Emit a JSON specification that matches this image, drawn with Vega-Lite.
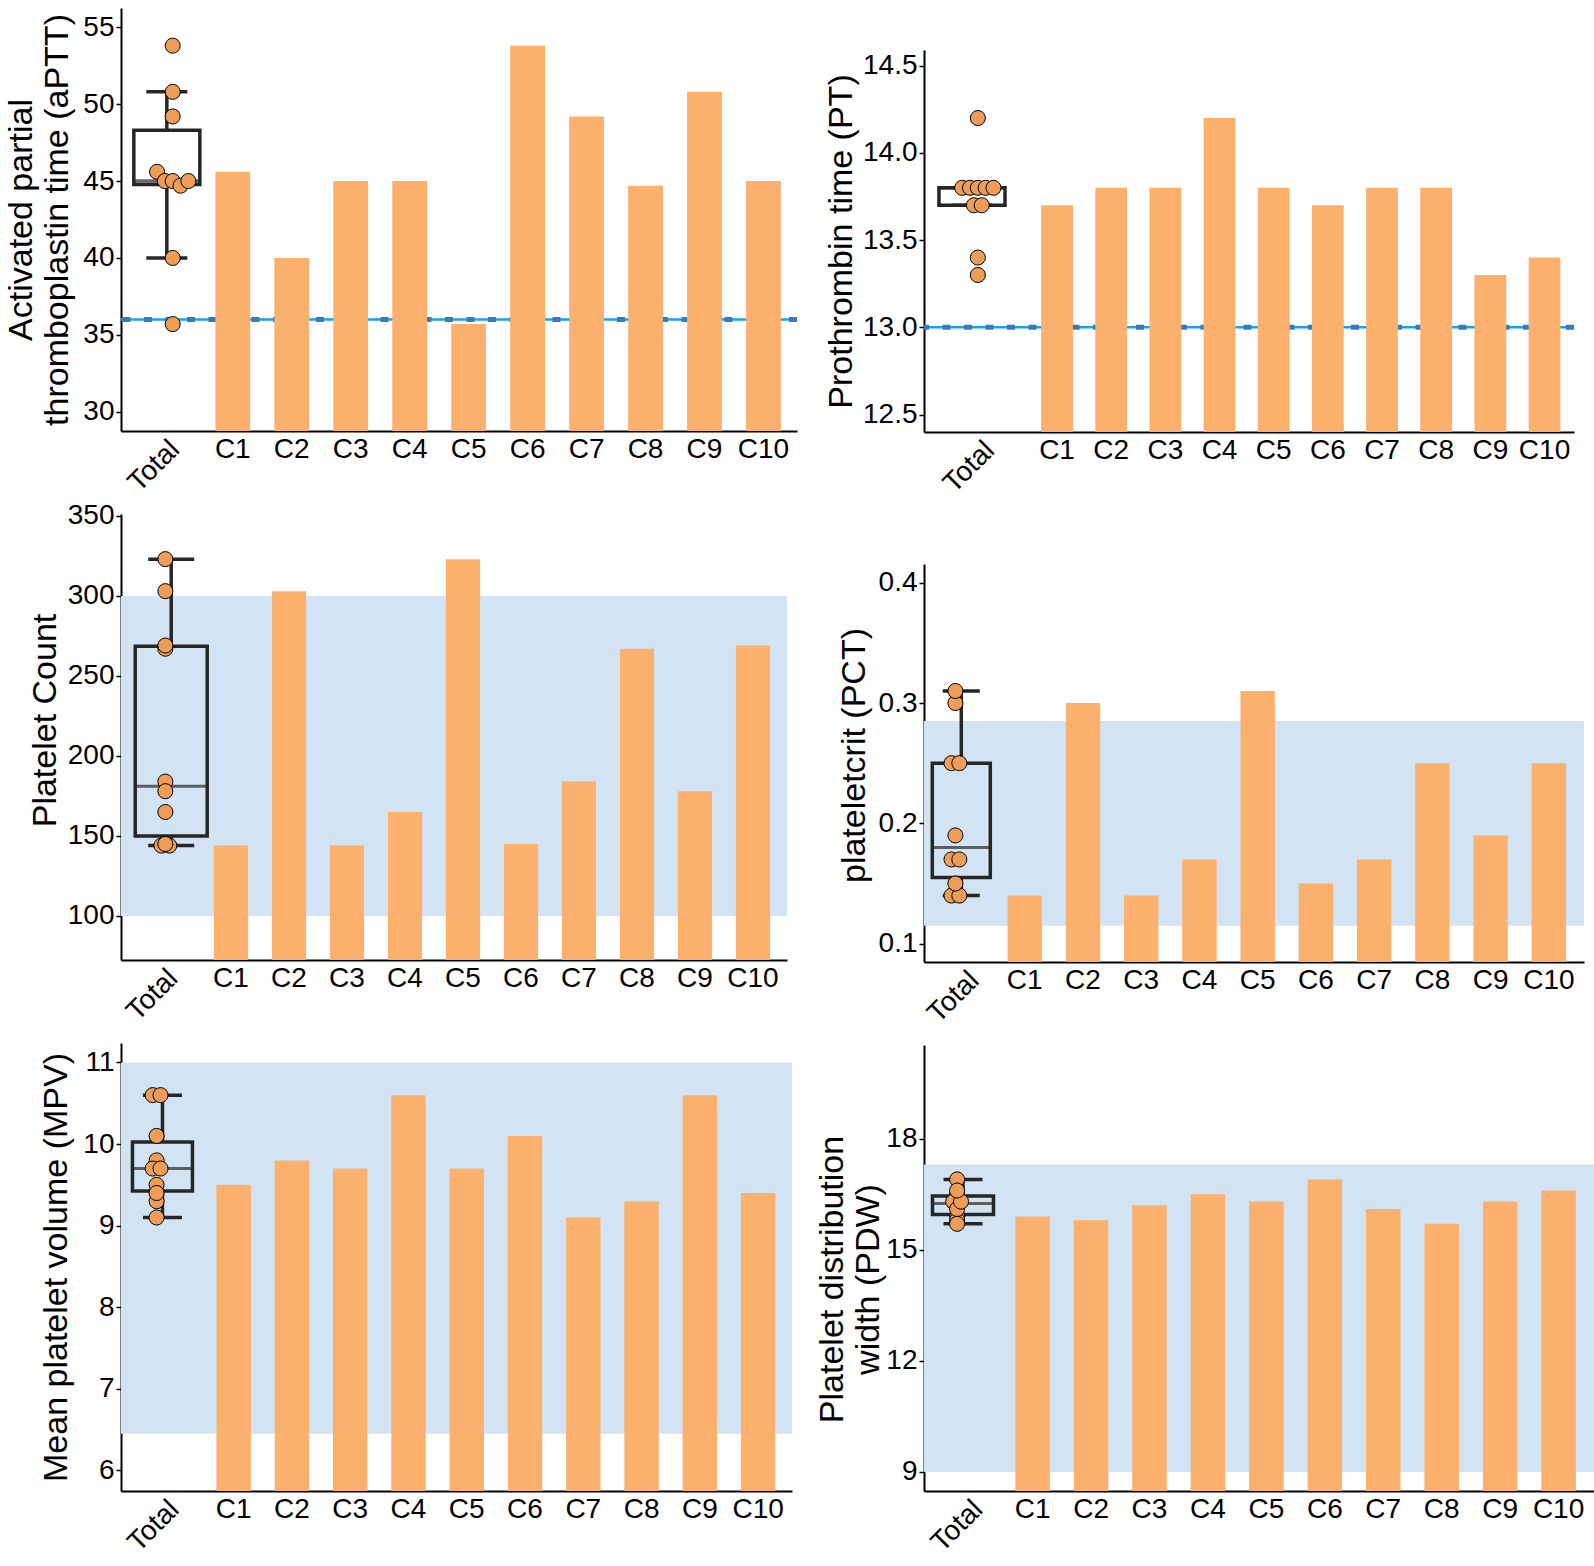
{
"$schema": "https://vega.github.io/schema/vega-lite/v6.json",
"background": "white",
"padding": {"left": 4, "top": 8, "right": 0, "bottom": 0},
"config": {
 "view": {"stroke": null},
 "font": "Liberation Sans",
 "axis": {"grid": false, "domainColor": "black", "domainWidth": 2, "tickColor": "black", "labelColor": "black", "titleColor": "black", "labelFont": "Liberation Sans", "titleFont": "Liberation Sans", "titleFontWeight": "normal"},
 "axisY": {"labelFontSize": 28, "titleFontSize": 34, "tickSize": 5, "tickWidth": 1.5, "labelPadding": 2, "titleLineHeight": 36},
 "axisX": {"labelFontSize": 28, "ticks": false, "labelPadding": 4, "labelAngle": 0}
},
"datasets": {
 "bars": [
  {"panel":"aPTT","group":"C1","value":45.6},{"panel":"aPTT","group":"C2","value":40.0},{"panel":"aPTT","group":"C3","value":45.0},{"panel":"aPTT","group":"C4","value":45.0},{"panel":"aPTT","group":"C5","value":35.7},{"panel":"aPTT","group":"C6","value":53.8},{"panel":"aPTT","group":"C7","value":49.2},{"panel":"aPTT","group":"C8","value":44.7},{"panel":"aPTT","group":"C9","value":50.8},{"panel":"aPTT","group":"C10","value":45.0},
  {"panel":"PT","group":"C1","value":13.7},{"panel":"PT","group":"C2","value":13.8},{"panel":"PT","group":"C3","value":13.8},{"panel":"PT","group":"C4","value":14.2},{"panel":"PT","group":"C5","value":13.8},{"panel":"PT","group":"C6","value":13.7},{"panel":"PT","group":"C7","value":13.8},{"panel":"PT","group":"C8","value":13.8},{"panel":"PT","group":"C9","value":13.3},{"panel":"PT","group":"C10","value":13.4},
  {"panel":"PLT","group":"C1","value":144},{"panel":"PLT","group":"C2","value":303},{"panel":"PLT","group":"C3","value":144},{"panel":"PLT","group":"C4","value":165},{"panel":"PLT","group":"C5","value":323},{"panel":"PLT","group":"C6","value":145},{"panel":"PLT","group":"C7","value":184},{"panel":"PLT","group":"C8","value":267},{"panel":"PLT","group":"C9","value":178},{"panel":"PLT","group":"C10","value":269},
  {"panel":"PCT","group":"C1","value":0.14},{"panel":"PCT","group":"C2","value":0.30},{"panel":"PCT","group":"C3","value":0.14},{"panel":"PCT","group":"C4","value":0.17},{"panel":"PCT","group":"C5","value":0.31},{"panel":"PCT","group":"C6","value":0.15},{"panel":"PCT","group":"C7","value":0.17},{"panel":"PCT","group":"C8","value":0.25},{"panel":"PCT","group":"C9","value":0.19},{"panel":"PCT","group":"C10","value":0.25},
  {"panel":"MPV","group":"C1","value":9.5},{"panel":"MPV","group":"C2","value":9.8},{"panel":"MPV","group":"C3","value":9.7},{"panel":"MPV","group":"C4","value":10.6},{"panel":"MPV","group":"C5","value":9.7},{"panel":"MPV","group":"C6","value":10.1},{"panel":"MPV","group":"C7","value":9.1},{"panel":"MPV","group":"C8","value":9.3},{"panel":"MPV","group":"C9","value":10.6},{"panel":"MPV","group":"C10","value":9.4},
  {"panel":"PDW","group":"C1","value":15.9},{"panel":"PDW","group":"C2","value":15.8},{"panel":"PDW","group":"C3","value":16.2},{"panel":"PDW","group":"C4","value":16.5},{"panel":"PDW","group":"C5","value":16.3},{"panel":"PDW","group":"C6","value":16.9},{"panel":"PDW","group":"C7","value":16.1},{"panel":"PDW","group":"C8","value":15.7},{"panel":"PDW","group":"C9","value":16.3},{"panel":"PDW","group":"C10","value":16.6}
 ],
 "total": [
  {"panel":"aPTT","group":"Total","value":45.6},{"panel":"aPTT","group":"Total","value":40.0},{"panel":"aPTT","group":"Total","value":45.0},{"panel":"aPTT","group":"Total","value":45.0},{"panel":"aPTT","group":"Total","value":35.7},{"panel":"aPTT","group":"Total","value":53.8},{"panel":"aPTT","group":"Total","value":49.2},{"panel":"aPTT","group":"Total","value":44.7},{"panel":"aPTT","group":"Total","value":50.8},{"panel":"aPTT","group":"Total","value":45.0},
  {"panel":"PT","group":"Total","value":13.7},{"panel":"PT","group":"Total","value":13.8},{"panel":"PT","group":"Total","value":13.8},{"panel":"PT","group":"Total","value":14.2},{"panel":"PT","group":"Total","value":13.8},{"panel":"PT","group":"Total","value":13.7},{"panel":"PT","group":"Total","value":13.8},{"panel":"PT","group":"Total","value":13.8},{"panel":"PT","group":"Total","value":13.3},{"panel":"PT","group":"Total","value":13.4},
  {"panel":"PLT","group":"Total","value":144},{"panel":"PLT","group":"Total","value":303},{"panel":"PLT","group":"Total","value":144},{"panel":"PLT","group":"Total","value":165},{"panel":"PLT","group":"Total","value":323},{"panel":"PLT","group":"Total","value":145},{"panel":"PLT","group":"Total","value":184},{"panel":"PLT","group":"Total","value":267},{"panel":"PLT","group":"Total","value":178},{"panel":"PLT","group":"Total","value":269},
  {"panel":"PCT","group":"Total","value":0.14},{"panel":"PCT","group":"Total","value":0.30},{"panel":"PCT","group":"Total","value":0.14},{"panel":"PCT","group":"Total","value":0.17},{"panel":"PCT","group":"Total","value":0.31},{"panel":"PCT","group":"Total","value":0.15},{"panel":"PCT","group":"Total","value":0.17},{"panel":"PCT","group":"Total","value":0.25},{"panel":"PCT","group":"Total","value":0.19},{"panel":"PCT","group":"Total","value":0.25},
  {"panel":"MPV","group":"Total","value":9.5},{"panel":"MPV","group":"Total","value":9.8},{"panel":"MPV","group":"Total","value":9.7},{"panel":"MPV","group":"Total","value":10.6},{"panel":"MPV","group":"Total","value":9.7},{"panel":"MPV","group":"Total","value":10.1},{"panel":"MPV","group":"Total","value":9.1},{"panel":"MPV","group":"Total","value":9.3},{"panel":"MPV","group":"Total","value":10.6},{"panel":"MPV","group":"Total","value":9.4},
  {"panel":"PDW","group":"Total","value":15.9},{"panel":"PDW","group":"Total","value":15.8},{"panel":"PDW","group":"Total","value":16.2},{"panel":"PDW","group":"Total","value":16.5},{"panel":"PDW","group":"Total","value":16.3},{"panel":"PDW","group":"Total","value":16.9},{"panel":"PDW","group":"Total","value":16.1},{"panel":"PDW","group":"Total","value":15.7},{"panel":"PDW","group":"Total","value":16.3},{"panel":"PDW","group":"Total","value":16.6}
 ],
 "refline": [{"panel":"aPTT","v":36},{"panel":"PT","v":13}],
 "band": [{"panel":"PLT","lo":100,"hi":300},{"panel":"PCT","lo":0.115,"hi":0.285},{"panel":"MPV","lo":6.45,"hi":11},{"panel":"PDW","lo":9,"hi":17.3}]
},
"spacing": 15,
"hconcat": [
 {"bounds": "flush", "spacing": 83, "vconcat": [
  {"width": 676, "height": 423,
   "resolve": {"scale": {"x": "independent"}, "axis": {"x": "independent"}},
   "layer": [
    {"data": {"name": "refline"}, "transform": [{"filter": "datum.panel === 'aPTT'"}], "mark": {"type": "rule", "color": "#1AA3DC", "strokeWidth": 2.5},
     "encoding": {"y": {"field": "v", "type": "quantitative", "scale": {"domain": [28.75, 56.25], "nice": false, "zero": false}, "title": ["Activated partial", "thromboplastin time (aPTT)"]}}},
    {"data": {"name": "refline"}, "transform": [{"filter": "datum.panel === 'aPTT'"}], "mark": {"type": "rule", "color": "#3879C0", "strokeWidth": 5, "strokeDash": [8, 13.5]},
     "encoding": {"y": {"field": "v", "type": "quantitative", "scale": {"domain": [28.75, 56.25], "nice": false, "zero": false}, "title": ["Activated partial", "thromboplastin time (aPTT)"]}}},
    {"data": {"name": "bars"}, "transform": [{"filter": "datum.panel === 'aPTT'"}], "mark": {"type": "bar", "color": "#FCB06E", "clip": true, "width": 34.8},
     "encoding": {
      "x": {"field": "group", "type": "nominal", "sort": null, "scale": {"domain": ["C1","C2","C3","C4","C5","C6","C7","C8","C9","C10"], "paddingInner": 0.41, "paddingOuter": 0.937, "align": 0.854}, "axis": {"title": null, "orient": "bottom"}},
      "y": {"field": "value", "type": "quantitative", "scale": {"domain": [28.75, 56.25], "nice": false, "zero": false}, "title": ["Activated partial", "thromboplastin time (aPTT)"], "axis": {"values": [30,35,40,45,50,55], "format": "d", "titlePadding": 8}}}},
    {"data": {"name": "total"}, "transform": [{"filter": "datum.panel === 'aPTT'"}],
     "layer": [
      {"mark": {"type": "boxplot", "extent": 1.5, "size": 66, "outliers": false, "ticks": {"size": 41, "color": "#262626", "thickness": 3.5}, "box": {"fillOpacity": 0, "stroke": "#262626", "strokeWidth": 3.5}, "median": {"color": "#262626", "thickness": 3.5}, "rule": {"color": "#262626", "strokeWidth": 3.5}},
       "encoding": {"x": {"field": "group", "type": "nominal", "scale": {"type": "point", "domain": ["Total"], "align": 0.0678}, "axis": {"title": null, "orient": "bottom", "labelAngle": -45, "labelAlign": "right", "labelBaseline": "top", "domain": false, "labelOffset": -2}},
        "y": {"field": "value", "type": "quantitative", "scale": {"domain": [28.75, 56.25], "nice": false, "zero": false}, "title": ["Activated partial", "thromboplastin time (aPTT)"]}}},
      {"transform": [{"bin": {"step": 2, "anchor": 44}, "field": "value", "as": "vb"}, {"window": [{"op": "count", "as": "one"}], "frame": [0, 0], "ignorePeers": true}, {"stack": "one", "groupby": ["vb"], "offset": "center", "as": ["s0", "s1"]}],
       "mark": {"type": "circle", "size": 227, "fill": "#EE9D58", "stroke": "black", "strokeWidth": 1, "opacity": 1},
       "encoding": {"x": {"field": "group", "type": "nominal", "scale": {"type": "point", "domain": ["Total"], "align": 0.0678}, "axis": {"title": null, "orient": "bottom", "labelAngle": -45, "labelAlign": "right", "labelBaseline": "top", "domain": false, "labelOffset": -2}},
        "xOffset": {"field": "s0", "type": "quantitative", "scale": {"domain": [-3, 7], "range": [-45, 45]}},
        "y": {"field": "value", "type": "quantitative", "scale": {"domain": [28.75, 56.25], "nice": false, "zero": false}, "title": ["Activated partial", "thromboplastin time (aPTT)"]}}}
     ]}
   ]},
  {"width": 666, "height": 446,
   "resolve": {"scale": {"x": "independent"}, "axis": {"x": "independent"}},
   "layer": [
    {"data": {"name": "band"}, "transform": [{"filter": "datum.panel === 'PLT'"}], "mark": {"type": "rect", "color": "#D2E4F4"},
     "encoding": {"y": {"field": "lo", "type": "quantitative", "scale": {"domain": [72.5, 351.2], "nice": false, "zero": false}, "title": "Platelet Count"}, "y2": {"field": "hi"}}},
    {"data": {"name": "bars"}, "transform": [{"filter": "datum.panel === 'PLT'"}], "mark": {"type": "bar", "color": "#FCB06E", "clip": true, "width": 34.2},
     "encoding": {
      "x": {"field": "group", "type": "nominal", "sort": null, "scale": {"domain": ["C1","C2","C3","C4","C5","C6","C7","C8","C9","C10"], "paddingInner": 0.41, "paddingOuter": 0.9465, "align": 0.846}, "axis": {"title": null, "orient": "bottom"}},
      "y": {"field": "value", "type": "quantitative", "scale": {"domain": [72.5, 351.2], "nice": false, "zero": false}, "title": "Platelet Count", "axis": {"values": [100,150,200,250,300,350], "format": "d", "titlePadding": 5, "titleY": 206}}}},
    {"data": {"name": "total"}, "transform": [{"filter": "datum.panel === 'PLT'"}],
     "layer": [
      {"mark": {"type": "boxplot", "extent": 1.5, "size": 72, "outliers": false, "ticks": {"size": 46, "color": "#262626", "thickness": 3.5}, "box": {"fillOpacity": 0, "stroke": "#262626", "strokeWidth": 3.5}, "median": {"color": "#262626", "thickness": 3}, "rule": {"color": "#262626", "strokeWidth": 3.5}},
       "encoding": {"x": {"field": "group", "type": "nominal", "scale": {"type": "point", "domain": ["Total"], "align": 0.0754}, "axis": {"title": null, "orient": "bottom", "labelAngle": -45, "labelAlign": "right", "labelBaseline": "top", "domain": false, "labelOffset": -8}},
        "y": {"field": "value", "type": "quantitative", "scale": {"domain": [72.5, 351.2], "nice": false, "zero": false}, "title": "Platelet Count"}}},
      {"transform": [{"window": [{"op": "count", "as": "one"}], "frame": [0, 0], "ignorePeers": true}, {"stack": "one", "groupby": ["value"], "offset": "center", "as": ["s0", "s1"]}],
       "mark": {"type": "circle", "size": 227, "fill": "#EE9D58", "stroke": "black", "strokeWidth": 1, "opacity": 1},
       "encoding": {"x": {"field": "group", "type": "nominal", "scale": {"type": "point", "domain": ["Total"], "align": 0.0754}, "axis": {"title": null, "orient": "bottom", "labelAngle": -45, "labelAlign": "right", "labelBaseline": "top", "domain": false, "labelOffset": -8}},
        "xOffset": {"field": "s0", "type": "quantitative", "scale": {"domain": [-4.5, 5.5], "range": [-110, 110]}},
        "y": {"field": "value", "type": "quantitative", "scale": {"domain": [72.5, 351.2], "nice": false, "zero": false}, "title": "Platelet Count"}}}
     ]}
   ]},
  {"width": 671, "height": 448,
   "resolve": {"scale": {"x": "independent"}, "axis": {"x": "independent"}},
   "layer": [
    {"data": {"name": "band"}, "transform": [{"filter": "datum.panel === 'MPV'"}], "mark": {"type": "rect", "color": "#D2E4F4"},
     "encoding": {"y": {"field": "lo", "type": "quantitative", "scale": {"domain": [5.747, 11.239], "nice": false, "zero": false}, "title": "Mean platelet volume (MPV)"}, "y2": {"field": "hi"}}},
    {"data": {"name": "bars"}, "transform": [{"filter": "datum.panel === 'MPV'"}], "mark": {"type": "bar", "color": "#FCB06E", "clip": true, "width": 34.4},
     "encoding": {
      "x": {"field": "group", "type": "nominal", "sort": null, "scale": {"domain": ["C1","C2","C3","C4","C5","C6","C7","C8","C9","C10"], "paddingInner": 0.41, "paddingOuter": 0.9625, "align": 0.851}, "axis": {"title": null, "orient": "bottom"}},
      "y": {"field": "value", "type": "quantitative", "scale": {"domain": [5.747, 11.239], "nice": false, "zero": false}, "title": "Mean platelet volume (MPV)", "axis": {"values": [6,7,8,9,10,11], "format": "d", "titlePadding": 9}}}},
    {"data": {"name": "total"}, "transform": [{"filter": "datum.panel === 'MPV'"}],
     "layer": [
      {"mark": {"type": "boxplot", "extent": 1.5, "size": 60, "outliers": false, "ticks": {"size": 39, "color": "#262626", "thickness": 3.5}, "box": {"fillOpacity": 0, "stroke": "#262626", "strokeWidth": 3.5}, "median": {"color": "#262626", "thickness": 3}, "rule": {"color": "#262626", "strokeWidth": 3.5}},
       "encoding": {"x": {"field": "group", "type": "nominal", "scale": {"type": "point", "domain": ["Total"], "align": 0.0618}, "axis": {"title": null, "orient": "bottom", "labelAngle": -45, "labelAlign": "right", "labelBaseline": "top", "domain": false, "labelOffset": 2}},
        "y": {"field": "value", "type": "quantitative", "scale": {"domain": [5.747, 11.239], "nice": false, "zero": false}, "title": "Mean platelet volume (MPV)"}}},
      {"transform": [{"window": [{"op": "count", "as": "one"}], "frame": [0, 0], "ignorePeers": true}, {"stack": "one", "groupby": ["value"], "offset": "center", "as": ["s0", "s1"]}],
       "mark": {"type": "circle", "size": 227, "fill": "#EE9D58", "stroke": "black", "strokeWidth": 1, "opacity": 1},
       "encoding": {"x": {"field": "group", "type": "nominal", "scale": {"type": "point", "domain": ["Total"], "align": 0.0618}, "axis": {"title": null, "orient": "bottom", "labelAngle": -45, "labelAlign": "right", "labelBaseline": "top", "domain": false, "labelOffset": 2}},
        "xOffset": {"field": "s0", "type": "quantitative", "scale": {"domain": [-4.5, 5.5], "range": [-90, 90]}},
        "y": {"field": "value", "type": "quantitative", "scale": {"domain": [5.747, 11.239], "nice": false, "zero": false}, "title": "Mean platelet volume (MPV)"}}}
     ]}
   ]}
 ]},
 {"bounds": "flush", "spacing": 10, "vconcat": [
  {"width": 10, "height": 32, "data": {"values": [{}]}, "mark": {"type": "point", "opacity": 0}, "encoding": {}},
  {"width": 650, "height": 382,
   "resolve": {"scale": {"x": "independent"}, "axis": {"x": "independent"}},
   "layer": [
    {"data": {"name": "refline"}, "transform": [{"filter": "datum.panel === 'PT'"}], "mark": {"type": "rule", "color": "#1AA3DC", "strokeWidth": 2.5},
     "encoding": {"y": {"field": "v", "type": "quantitative", "scale": {"domain": [12.4, 14.59], "nice": false, "zero": false}, "title": "Prothrombin time (PT)"}}},
    {"data": {"name": "refline"}, "transform": [{"filter": "datum.panel === 'PT'"}], "mark": {"type": "rule", "color": "#3879C0", "strokeWidth": 5, "strokeDash": [8, 13.5]},
     "encoding": {"y": {"field": "v", "type": "quantitative", "scale": {"domain": [12.4, 14.59], "nice": false, "zero": false}, "title": "Prothrombin time (PT)"}}},
    {"data": {"name": "bars"}, "transform": [{"filter": "datum.panel === 'PT'"}], "mark": {"type": "bar", "color": "#FCB06E", "clip": true, "width": 31.8},
     "encoding": {
      "x": {"field": "group", "type": "nominal", "sort": null, "scale": {"domain": ["C1","C2","C3","C4","C5","C6","C7","C8","C9","C10"], "paddingInner": 0, "paddingOuter": 1, "align": 0.978}, "axis": {"title": null, "orient": "bottom"}},
      "y": {"field": "value", "type": "quantitative", "scale": {"domain": [12.4, 14.59], "nice": false, "zero": false}, "title": "Prothrombin time (PT)", "axis": {"values": [12.5,13,13.5,14,14.5], "format": ".1f", "titlePadding": 4}}}},
    {"data": {"name": "total"}, "transform": [{"filter": "datum.panel === 'PT'"}],
     "layer": [
      {"mark": {"type": "boxplot", "extent": 1.5, "size": 66, "outliers": false, "ticks": {"size": 41, "color": "#262626", "thickness": 3.5}, "box": {"fillOpacity": 0, "stroke": "#262626", "strokeWidth": 3.5}, "median": {"color": "#262626", "thickness": 3.5}, "rule": {"color": "#262626", "strokeWidth": 3.5}},
       "encoding": {"x": {"field": "group", "type": "nominal", "scale": {"type": "point", "domain": ["Total"], "align": 0.0738}, "axis": {"title": null, "orient": "bottom", "labelAngle": -45, "labelAlign": "right", "labelBaseline": "top", "domain": false, "labelOffset": 8}},
        "y": {"field": "value", "type": "quantitative", "scale": {"domain": [12.4, 14.59], "nice": false, "zero": false}, "title": "Prothrombin time (PT)"}}},
      {"transform": [{"window": [{"op": "count", "as": "one"}], "frame": [0, 0], "ignorePeers": true}, {"stack": "one", "groupby": ["value"], "offset": "center", "as": ["s0", "s1"]}],
       "mark": {"type": "circle", "size": 227, "fill": "#EE9D58", "stroke": "black", "strokeWidth": 1, "opacity": 1},
       "encoding": {"x": {"field": "group", "type": "nominal", "scale": {"type": "point", "domain": ["Total"], "align": 0.0738}, "axis": {"title": null, "orient": "bottom", "labelAngle": -45, "labelAlign": "right", "labelBaseline": "top", "domain": false, "labelOffset": 8}},
        "xOffset": {"field": "s0", "type": "quantitative", "scale": {"domain": [-3, 7], "range": [-60, 60]}},
        "y": {"field": "value", "type": "quantitative", "scale": {"domain": [12.4, 14.59], "nice": false, "zero": false}, "title": "Prothrombin time (PT)"}}}
     ]}
   ]},
  {"width": 10, "height": 112, "data": {"values": [{}]}, "mark": {"type": "point", "opacity": 0}, "encoding": {}},
  {"width": 660, "height": 398,
   "resolve": {"scale": {"x": "independent"}, "axis": {"x": "independent"}},
   "layer": [
    {"data": {"name": "band"}, "transform": [{"filter": "datum.panel === 'PCT'"}], "mark": {"type": "rect", "color": "#D2E4F4"},
     "encoding": {"y": {"field": "lo", "type": "quantitative", "scale": {"domain": [0.0848, 0.4155], "nice": false, "zero": false}, "title": "plateletcrit (PCT)"}, "y2": {"field": "hi"}}},
    {"data": {"name": "bars"}, "transform": [{"filter": "datum.panel === 'PCT'"}], "mark": {"type": "bar", "color": "#FCB06E", "clip": true, "width": 34.4},
     "encoding": {
      "x": {"field": "group", "type": "nominal", "sort": null, "scale": {"domain": ["C1","C2","C3","C4","C5","C6","C7","C8","C9","C10"], "paddingInner": 0.41, "paddingOuter": 0.872, "align": 0.823}, "axis": {"title": null, "orient": "bottom"}},
      "y": {"field": "value", "type": "quantitative", "scale": {"domain": [0.0848, 0.4155], "nice": false, "zero": false}, "title": "plateletcrit (PCT)", "axis": {"values": [0.1,0.2,0.3,0.4], "format": ".1f", "titlePadding": 7, "titleY": 191}}}},
    {"data": {"name": "total"}, "transform": [{"filter": "datum.panel === 'PCT'"}],
     "layer": [
      {"mark": {"type": "boxplot", "extent": 1.5, "size": 58, "outliers": false, "ticks": {"size": 37, "color": "#262626", "thickness": 3.5}, "box": {"fillOpacity": 0, "stroke": "#262626", "strokeWidth": 3.5}, "median": {"color": "#262626", "thickness": 3}, "rule": {"color": "#262626", "strokeWidth": 3.5}},
       "encoding": {"x": {"field": "group", "type": "nominal", "scale": {"type": "point", "domain": ["Total"], "align": 0.0565}, "axis": {"title": null, "orient": "bottom", "labelAngle": -45, "labelAlign": "right", "labelBaseline": "top", "domain": false, "labelOffset": 3}},
        "y": {"field": "value", "type": "quantitative", "scale": {"domain": [0.0848, 0.4155], "nice": false, "zero": false}, "title": "plateletcrit (PCT)"}}},
      {"transform": [{"window": [{"op": "count", "as": "one"}], "frame": [0, 0], "ignorePeers": true}, {"stack": "one", "groupby": ["value"], "offset": "center", "as": ["s0", "s1"]}],
       "mark": {"type": "circle", "size": 227, "fill": "#EE9D58", "stroke": "black", "strokeWidth": 1, "opacity": 1},
       "encoding": {"x": {"field": "group", "type": "nominal", "scale": {"type": "point", "domain": ["Total"], "align": 0.0565}, "axis": {"title": null, "orient": "bottom", "labelAngle": -45, "labelAlign": "right", "labelBaseline": "top", "domain": false, "labelOffset": 3}},
        "xOffset": {"field": "s0", "type": "quantitative", "scale": {"domain": [-4.5, 5.5], "range": [-85, 85]}},
        "y": {"field": "value", "type": "quantitative", "scale": {"domain": [0.0848, 0.4155], "nice": false, "zero": false}, "title": "plateletcrit (PCT)"}}}
     ]}
   ]},
  {"width": 10, "height": 63, "data": {"values": [{}]}, "mark": {"type": "point", "opacity": 0}, "encoding": {}},
  {"width": 670, "height": 446,
   "resolve": {"scale": {"x": "independent"}, "axis": {"x": "independent"}},
   "layer": [
    {"data": {"name": "band"}, "transform": [{"filter": "datum.panel === 'PDW'"}], "mark": {"type": "rect", "color": "#D2E4F4"},
     "encoding": {"y": {"field": "lo", "type": "quantitative", "scale": {"domain": [8.484, 20.53], "nice": false, "zero": false}, "title": ["Platelet distribution", "width (PDW)"]}, "y2": {"field": "hi"}}},
    {"data": {"name": "bars"}, "transform": [{"filter": "datum.panel === 'PDW'"}], "mark": {"type": "bar", "color": "#FCB06E", "clip": true, "width": 34.5},
     "encoding": {
      "x": {"field": "group", "type": "nominal", "sort": null, "scale": {"domain": ["C1","C2","C3","C4","C5","C6","C7","C8","C9","C10"], "paddingInner": 0.41, "paddingOuter": 0.9375, "align": 0.834}, "axis": {"title": null, "orient": "bottom"}},
      "y": {"field": "value", "type": "quantitative", "scale": {"domain": [8.484, 20.53], "nice": false, "zero": false}, "title": ["Platelet distribution", "width (PDW)"], "axis": {"values": [9,12,15,18], "format": "d", "titlePadding": 0, "titleY": 234}}}},
    {"data": {"name": "total"}, "transform": [{"filter": "datum.panel === 'PDW'"}],
     "layer": [
      {"mark": {"type": "boxplot", "extent": 1.5, "size": 61, "outliers": false, "ticks": {"size": 39, "color": "#262626", "thickness": 3.5}, "box": {"fillOpacity": 0, "stroke": "#262626", "strokeWidth": 3.5}, "median": {"color": "#262626", "thickness": 3}, "rule": {"color": "#262626", "strokeWidth": 3.5}},
       "encoding": {"x": {"field": "group", "type": "nominal", "scale": {"type": "point", "domain": ["Total"], "align": 0.0582}, "axis": {"title": null, "orient": "bottom", "labelAngle": -45, "labelAlign": "right", "labelBaseline": "top", "domain": false, "labelOffset": 5}},
        "y": {"field": "value", "type": "quantitative", "scale": {"domain": [8.484, 20.53], "nice": false, "zero": false}, "title": ["Platelet distribution", "width (PDW)"]}}},
      {"transform": [{"window": [{"op": "count", "as": "one"}], "frame": [0, 0], "ignorePeers": true}, {"stack": "one", "groupby": ["value"], "offset": "center", "as": ["s0", "s1"]}],
       "mark": {"type": "circle", "size": 227, "fill": "#EE9D58", "stroke": "black", "strokeWidth": 1, "opacity": 1},
       "encoding": {"x": {"field": "group", "type": "nominal", "scale": {"type": "point", "domain": ["Total"], "align": 0.0582}, "axis": {"title": null, "orient": "bottom", "labelAngle": -45, "labelAlign": "right", "labelBaseline": "top", "domain": false, "labelOffset": 5}},
        "xOffset": {"field": "s0", "type": "quantitative", "scale": {"domain": [-4.5, 5.5], "range": [-75, 75]}},
        "y": {"field": "value", "type": "quantitative", "scale": {"domain": [8.484, 20.53], "nice": false, "zero": false}, "title": ["Platelet distribution", "width (PDW)"]}}}
     ]}
   ]}
 ]}
]
}
